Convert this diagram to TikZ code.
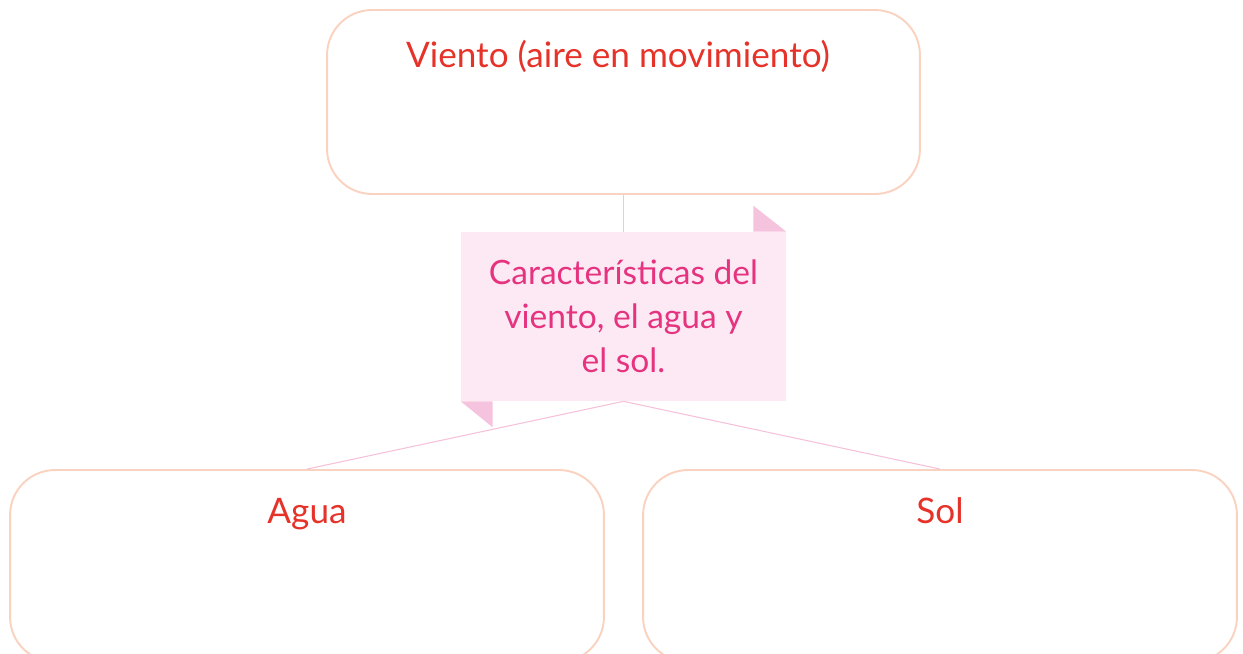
\documentclass[tikz,border=0pt]{standalone}
\usepackage{fontspec}
\setmainfont{Lato}
\usepackage{xcolor}
\usetikzlibrary{positioning}
\definecolor{boxline}{HTML}{FAD2C0}
\definecolor{titlered}{HTML}{E6332A}
\definecolor{notefill}{HTML}{FCE9F4}
\definecolor{notefold}{HTML}{F6C3DE}
\definecolor{notetext}{HTML}{E6337F}
\definecolor{linkpink}{HTML}{F4C0DA}
\definecolor{linkgray}{HTML}{E6CCD4}

\begin{document}
\begin{tikzpicture}[
    x=0.02cm,y=-0.02cm,
    box/.style={draw=boxline,line width=1.1pt,rounded corners=0.9cm,minimum width=11.86cm,minimum height=3.68cm},
    lowbox/.style={box,minimum width=11.88cm,minimum height=3.84cm},
    title/.style={text=titlered,font=\fontsize{20}{24}\selectfont,anchor=base,inner sep=0pt},
    note/.style={fill=notefill,minimum width=6.5cm,minimum height=3.38cm,align=center,text=notetext,font=\fontsize{19.1}{25}\selectfont},
    link/.style={draw=linkpink,line width=0.6pt}
]
\useasboundingbox (0,0) rectangle (1243,653);
% boxes
\node[box] (viento) at (623.5,102) {};
\node[lowbox] (agua) at (307,566) {};
\node[lowbox] (sol) at (940,566) {};
\node[title] (vientotitle) at (618,67) {Viento (aire en movimiento)};
\node[title] (aguatitle) at (307,523) {Agua};
\node[title] (soltitle) at (940,523) {Sol};
% central note
\node[note] (note) at (623.5,316.5) {Características del\\viento, el agua y\\el sol.};
\fill[notefold] (note.north east) -- ++(-33,0) -- ++(0,-26) -- cycle;
\fill[notefold] (note.south west) -- ++(32,0) -- ++(0,26) -- cycle;
% connectors
\draw[link,draw=linkgray] (viento.south) -- (note.north);
\draw[link] (note.south) -- (agua.north);
\draw[link] (note.south) -- (sol.north);
\end{tikzpicture}
\end{document}
